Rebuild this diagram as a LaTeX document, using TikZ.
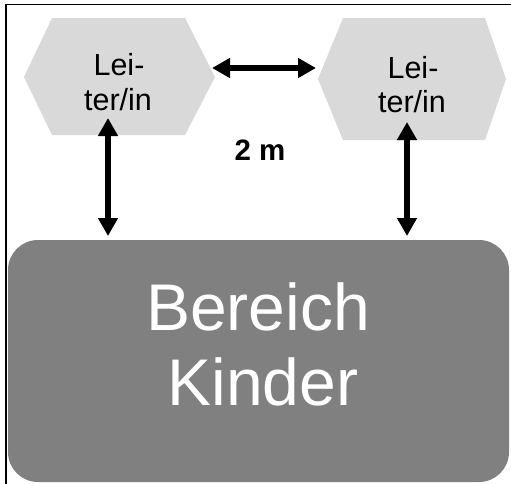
\documentclass[tikz,border=0pt]{standalone}
\usepackage{fontspec}
\setmainfont{Liberation Sans}
\usetikzlibrary{arrows.meta}
\definecolor{hexgray}{HTML}{D9D9D9}
\definecolor{areagray}{HTML}{808080}
\tikzset{
  hexfill/.style={fill=hexgray, draw=none},
  hextext/.style={anchor=base, inner sep=0pt, font=\fontsize{30.5}{35}\selectfont},
  areabox/.style={fill=areagray, draw=none, rounded corners=30pt, inner sep=0pt,
    minimum width=501pt, minimum height=242pt},
  areatext/.style={anchor=base, inner sep=0pt, text=white, font=\fontsize{66}{75}\selectfont},
  conn/.style={line width=5.2pt, {Triangle[length=18pt,width=19pt]}-{Triangle[length=18pt,width=19pt]}},
  frame/.style={draw=black, line width=1.6pt}
}
\begin{document}
\begin{tikzpicture}[x=1pt,y=-1pt]
\useasboundingbox (0,0) rectangle (511,483);
\fill[white] (0,0) rectangle (511,483);
\draw[frame] (6,4.5) rectangle (530,500);
% hexagons
\fill[hexfill] (24,77) -- (52,18) -- (185,18) -- (215,77) -- (185,135) -- (52,135) -- cycle;
\fill[hexfill] (318,79) -- (343,18) -- (485,18) -- (506,79) -- (485,140) -- (343,140) -- cycle;
\node[hextext] (l1a) at (119,75) {Lei-};
\node[hextext] (l1b) at (118,110) {ter/in};
\node[hextext] (l2a) at (413,78) {Lei-};
\node[hextext] (l2b) at (412,112) {ter/in};
% area
\node[areabox] (area) at (258.5,361) {};
\node[areatext] (t1) at (258,330) {Bereich};
\node[areatext] (t2) at (263,405) {Kinder};
% distance label
\node[anchor=base, inner sep=0pt, font=\bfseries\fontsize{29.5}{34}\selectfont] (dist) at (260,160) {2 m};
% connector end points
\coordinate (h1) at (212,68);
\coordinate (h2) at (316,68);
\coordinate (v1a) at (108,118);
\coordinate (v1b) at (108,236);
\coordinate (v2a) at (407,122);
\coordinate (v2b) at (407,236);
\draw[conn] (h1) -- (h2);
\draw[conn] (v1a) -- (v1b);
\draw[conn] (v2a) -- (v2b);
\end{tikzpicture}
\end{document}
